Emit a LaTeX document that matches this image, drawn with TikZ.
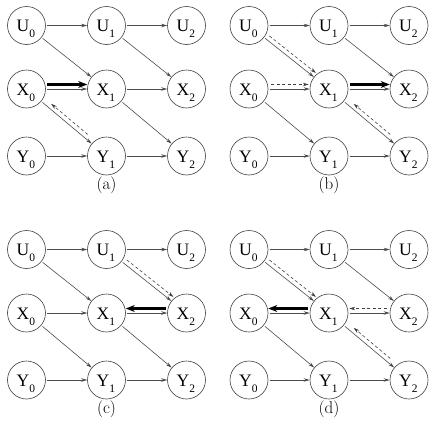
\documentclass[tikz,border=0pt]{standalone}
\usepackage{fontspec}
\newfontfamily\tfont{Liberation Serif}
\usetikzlibrary{arrows.meta,calc}
\tikzset{
 vnode/.style={circle,draw=black!75,line width=0.6pt,minimum size=38pt,inner sep=0pt},
 thinarr/.style={draw=black!70,line width=0.6pt,-{Stealth[length=6pt,width=3.5pt]},shorten <=1.5pt},
 boldarr/.style={draw=black,line width=2.2pt,-{Stealth[length=9pt,width=7pt]},shorten <=1.5pt},
 dsharr/.style={draw=black!75,line width=0.6pt,dash pattern=on 3pt off 2.5pt,-{Stealth[length=6pt,width=3.5pt]},shorten <=3pt,shorten >=1pt},
 rev/.style={shorten <=9pt,shorten >=9pt},
 upsh/.style={transform canvas={yshift=4.5pt}},
 ursh/.style={transform canvas={xshift=2.9pt,yshift=3.4pt}},
}
\newcommand{\nlab}[2]{\raisebox{-6.3pt}[0pt][0pt]{\makebox[0pt]{\hspace{-1.2pt}\tfont\fontsize{17.5}{17.5}\selectfont #1\kern0pt\raisebox{-6pt}{\fontsize{11.5}{11.5}\selectfont #2}}}}
\newcommand{\panel}[4]{%
 \begin{scope}[shift={(#2,#3)}]
 \node[vnode] (#1U0) at (26.5,25.5) {\nlab{U}{0}};
 \node[vnode] (#1U1) at (106.5,25.5) {\nlab{U}{1}};
 \node[vnode] (#1U2) at (186.5,25.5) {\nlab{U}{2}};
 \node[vnode] (#1X0) at (26.5,89) {\nlab{X}{0}};
 \node[vnode] (#1X1) at (106.5,89) {\nlab{X}{1}};
 \node[vnode] (#1X2) at (186.5,89) {\nlab{X}{2}};
 \node[vnode] (#1Y0) at (26.5,156) {\nlab{Y}{0}};
 \node[vnode] (#1Y1) at (106.5,156) {\nlab{Y}{1}};
 \node[vnode] (#1Y2) at (186.5,156) {\nlab{Y}{2}};
 \node (#1cap) at (106.5,185) {\fontsize{17}{17}\selectfont (#4)};
 \draw[thinarr] (#1U0) -- (#1U1);
 \draw[thinarr] (#1U1) -- (#1U2);
 \draw[thinarr] (#1U0) -- (#1X1);
 \draw[thinarr] (#1U1) -- (#1X2);
 \draw[thinarr] (#1X0) -- (#1X1);
 \draw[thinarr] (#1X1) -- (#1X2);
 \draw[thinarr] (#1X0) -- (#1Y1);
 \draw[thinarr] (#1X1) -- (#1Y2);
 \draw[thinarr] (#1Y0) -- (#1Y1);
 \draw[thinarr] (#1Y1) -- (#1Y2);
 \end{scope}}
\begin{document}
\begin{tikzpicture}[x=1pt,y=-1pt]
\useasboundingbox (0,0) rectangle (433,434);
\panel{a}{0}{0}{a}
\panel{b}{222.5}{0}{b}
\panel{c}{0}{224}{c}
\panel{d}{222.5}{224}{d}
% (a)
\draw[boldarr,upsh] (aX0) -- (aX1);
\draw[dsharr,rev,ursh] (aY1) -- (aX0);
% (b)
\draw[dsharr,ursh] (bU0) -- (bX1);
\draw[dsharr,upsh] (bX0) -- (bX1);
\draw[boldarr,upsh] (bX1) -- (bX2);
\draw[dsharr,rev,ursh] (bY2) -- (bX1);
% (c)
\draw[dsharr,ursh] (cU1) -- (cX2);
\draw[boldarr,upsh] (cX2) -- (cX1);
% (d)
\draw[dsharr,ursh] (dU0) -- (dX1);
\draw[boldarr,upsh] (dX1) -- (dX0);
\draw[dsharr,upsh] (dX2) -- (dX1);
\draw[dsharr,rev,ursh] (dY2) -- (dX1);
\end{tikzpicture}
\end{document}
